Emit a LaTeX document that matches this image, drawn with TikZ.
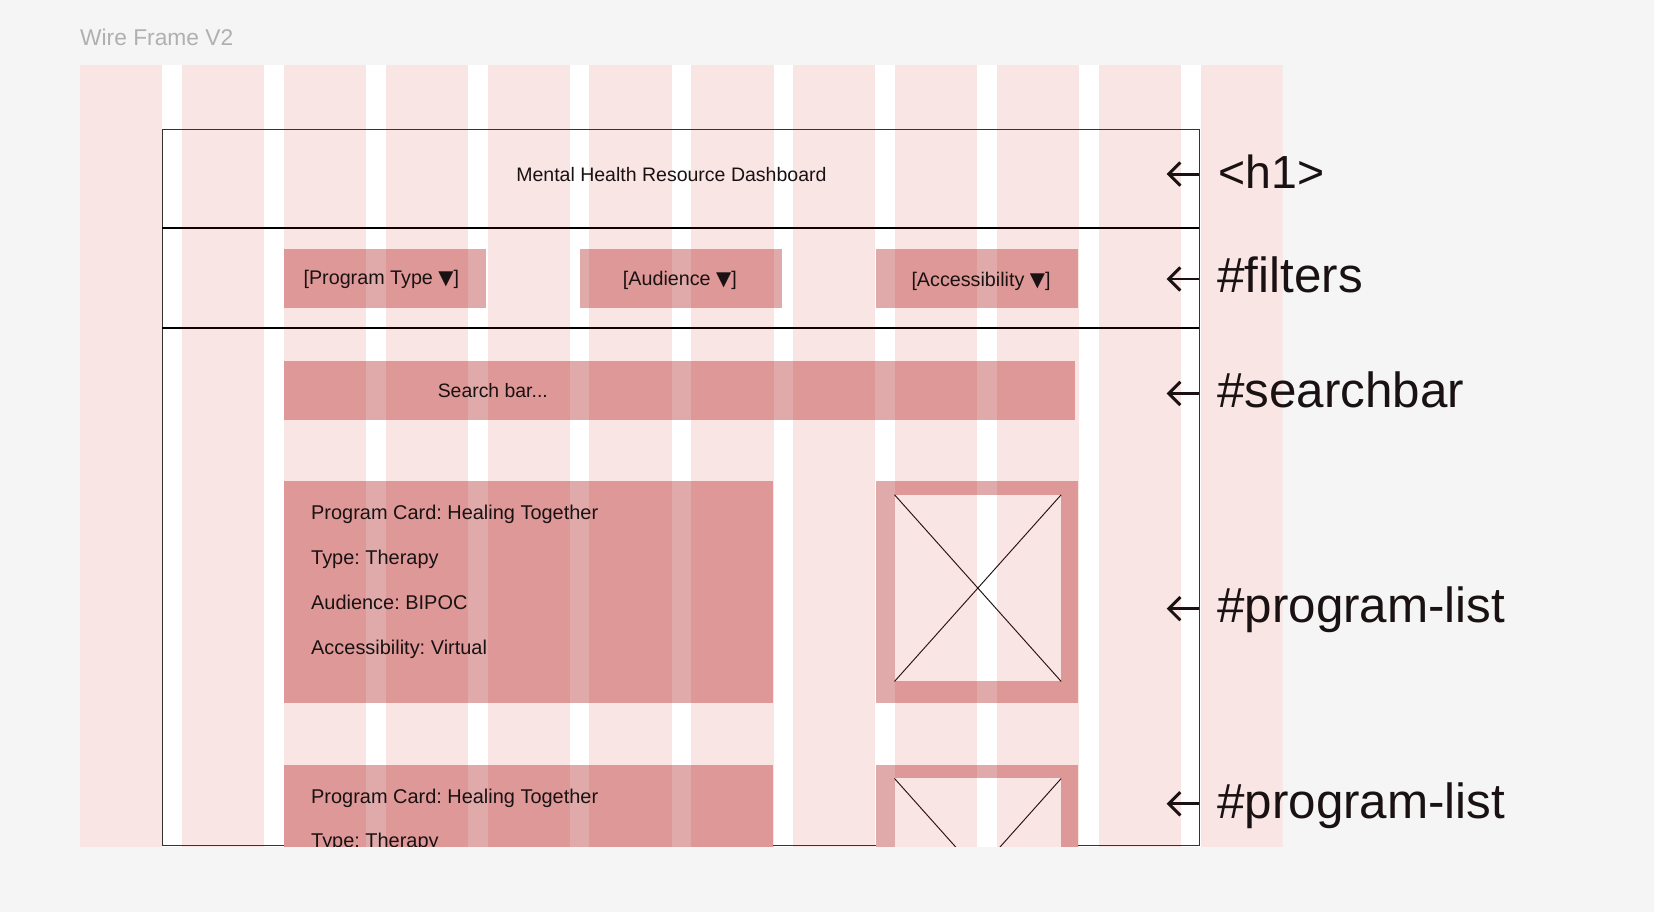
\documentclass[tikz,border=0pt]{standalone}
\usepackage{fontspec}
\setmainfont{Liberation Sans}
\newfontfamily\symf{DejaVu Sans}
\usetikzlibrary{arrows.meta}
\frenchspacing
\definecolor{bg}{HTML}{F5F5F5}
\definecolor{cardc}{HTML}{E0AAAA}
\definecolor{gridc}{RGB}{215,0,0}
\definecolor{ink}{HTML}{1A1212}
\definecolor{titlec}{HTML}{B0B0B0}
\definecolor{framec}{HTML}{333333}
\begin{document}
\begin{tikzpicture}[x=1pt,y=-1pt,
  every node/.style={inner sep=0pt, outer sep=0pt, text=ink},
  box/.style={fill=cardc, draw=none},
  inbox/.style={fill=white, draw=none, minimum width=158pt, minimum height=177pt},
  txt/.style={font=\fontsize{18.9}{20}\selectfont\frenchspacing, anchor=base west},
  ctxt/.style={font=\fontsize{18.7}{20}\selectfont\frenchspacing, anchor=base},
  lab/.style={font=\fontsize{46.8}{50}\selectfont, anchor=base west},
  larrow/.style={line width=2.8pt, color=ink, -{Straight Barb[length=11pt, width=22pt]}},
  diag/.style={line width=0.9pt, color=ink},
  frameline/.style={line width=1pt, color=framec},
  divline/.style={line width=1.8pt, color=black}
]
\fill[bg] (0,0) rectangle (1568,865);
\useasboundingbox (0,0) rectangle (1568,865);

\node[font=\fontsize{21.6}{24}\selectfont, text=titlec, anchor=base west] (title) at (76,43) {Wire Frame V2};

\begin{scope}
\clip (76,62) rectangle (1216,802.5);
\fill[white] (76,62) rectangle (1216,802.5);
% frame
\draw[frameline] (154,123) rectangle (1137,801.5);
\draw[divline] (154,216) -- (1137,216);
\draw[divline] (154,311) -- (1137,311);
% filters
\node[box, minimum width=192pt, minimum height=56pt] (fprog) at (365,264) {};
\node[box, minimum width=191pt, minimum height=56pt] (faud) at (645.5,264) {};
\node[box, minimum width=192pt, minimum height=56pt] (facc) at (926,264) {};
% search bar
\node[box, minimum width=750pt, minimum height=56pt] (search) at (644,370) {};
% card 1
\node[box, minimum width=464pt, minimum height=210pt] (card1) at (501,561) {};
\node[box, minimum width=192pt, minimum height=210pt] (img1) at (926,561) {};
\node[inbox] (img1in) at (927,557.5) {};
\draw[diag] (img1in.north west) -- (img1in.south east);
\draw[diag] (img1in.north east) -- (img1in.south west);
% card 2
\node[box, minimum width=464pt, minimum height=210pt] (card2) at (501,830) {};
\node[box, minimum width=192pt, minimum height=210pt] (img2) at (926,830) {};
\node[inbox] (img2in) at (927,826.5) {};
\draw[diag] (img2in.north west) -- (img2in.south east);
\draw[diag] (img2in.north east) -- (img2in.south west);
% grid overlay
\foreach \k in {0,...,11}
  \fill[gridc, fill opacity=0.1] ({76+\k*96.56},62) rectangle ++(78,740.5);
% texts
\node[ctxt, font=\fontsize{18.5}{20}\selectfont] (h1txt) at (636.5,172.2) {Mental Health Resource Dashboard};
\node[ctxt] (tprog) at (361.5,270) {[Program Type {\symf ▼}]};
\node[ctxt] (taud) at (644.5,270.5) {[Audience {\symf ▼}]};
\node[ctxt] (tacc) at (930,272) {[Accessibility {\symf ▼}]};
\node[txt, font=\fontsize{18.4}{20}\selectfont] (tsearch) at (415,376.5) {Search bar...};
\node[txt] (c1a) at (295,492.3) {Program Card: Healing Together};
\node[txt] (c1b) at (295,534.7) {Type: Therapy};
\node[txt] (c1c) at (295,577.4) {Audience: BIPOC};
\node[txt] (c1d) at (295,620) {Accessibility: Virtual};
\node[txt] (c2a) at (295,761.3) {Program Card: Healing Together};
\node[txt] (c2b) at (295,803.7) {Type: Therapy};
\end{scope}

% labels with arrows
\coordinate (s1) at (1137,165);   \coordinate (t1) at (1106,165);
\coordinate (s2) at (1137,264.5); \coordinate (t2) at (1106,264.5);
\coordinate (s3) at (1137,373);   \coordinate (t3) at (1106,373);
\coordinate (s4) at (1137,577);   \coordinate (t4) at (1106,577);
\coordinate (s5) at (1137,762);   \coordinate (t5) at (1106,762);
\draw[larrow] (s1) -- (t1);
\draw[larrow] (s2) -- (t2);
\draw[larrow] (s3) -- (t3);
\draw[larrow] (s4) -- (t4);
\draw[larrow] (s5) -- (t5);
\node[lab, font=\fontsize{44}{50}\selectfont] (lh1) at (1155,178.5) {<h1>};
\node[lab] (lfil) at (1154,277.5) {\#filters};
\node[lab] (lsea) at (1154,386) {\#searchbar};
\node[lab] (lpl1) at (1154,590.5) {\#program-list};
\node[lab] (lpl2) at (1154,775.5) {\#program-list};
\end{tikzpicture}
\end{document}
